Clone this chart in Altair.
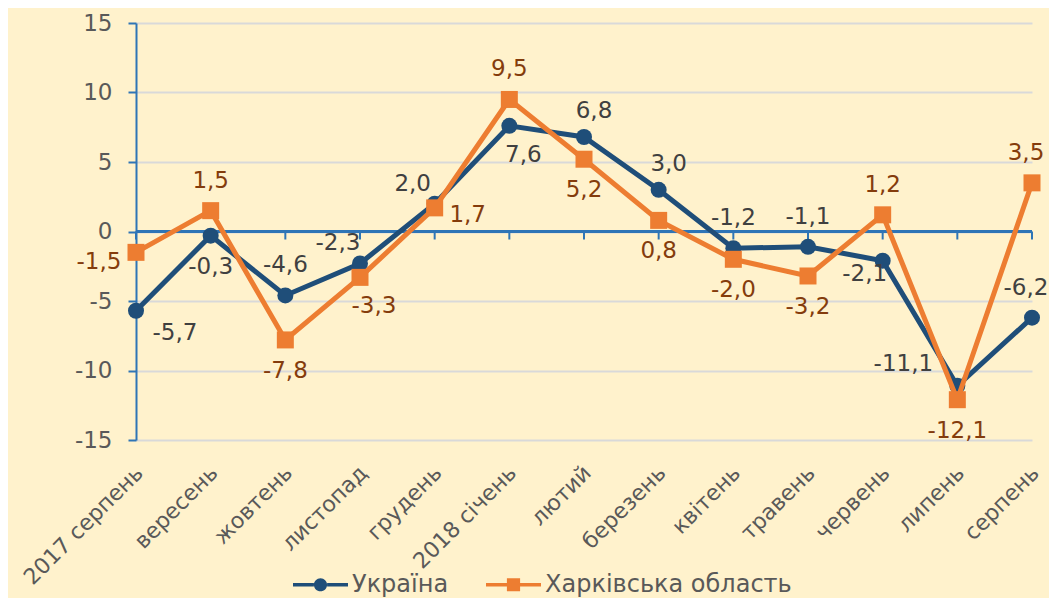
import altair as alt
import pandas as pd

CATEGORIES = ["2017 серпень", "вересень", "жовтень", "листопад", "грудень",
              "2018 січень", "лютий", "березень", "квітень", "травень",
              "червень", "липень", "серпень"]
SERIES = ["Україна", "Харківська область"]
UKRAINE = [-5.7, -0.3, -4.6, -2.3, 2.0, 7.6, 6.8, 3.0, -1.2, -1.1, -2.1, -11.1, -6.2]
KHARKIV = [-1.5, 1.5, -7.8, -3.3, 1.7, 9.5, 5.2, 0.8, -2.0, -3.2, 1.2, -12.1, 3.5]
Y_TICKS = [-15, -10, -5, 0, 5, 10, 15]

# label placement keywords (Excel-style data label positions)
UKRAINE_LABEL_POS = ["right_below", "below", "above", "above_left", "above_left",
                     "below_right", "above_right", "above_right", "above", "above",
                     "below_left", "left_above", "above_edge"]
KHARKIV_LABEL_POS = ["left", "above", "below", "below_right", "right", "above",
                     "below", "below", "below", "below", "above", "below", "above_edge"]

PLACEMENT = {
    "above": (0, -30), "below": (0, 31), "right": (33, 7), "left": (-37, 10),
    "below_right": (14, 29), "right_below": (39, 22), "above_left": (-22, -20),
    "above_right": (10, -26), "below_left": (-18, 13), "left_above": (-54, -22),
    "above_edge": (-6, -30),
}

BLUE = "#1F4E79"
ORANGE = "#ED7D31"
AXIS_BLUE = "#2E75B6"
LABEL_COLORS = ["#404040", "#843C0C"]
TICK_GRAY = "#595959"
FONT = "DejaVu Sans"
SHAPES = ["circle", "square"]
SIZES = [256, 289]
LEGEND_PATHS = [
    "M-1,-0.06H-0.24V0.06H-1Z M0.24,-0.06H1V0.06H0.24Z "
    "M-0.24,0A0.24,0.24,0,1,1,0.24,0A0.24,0.24,0,1,1,-0.24,0Z",
    "M-1,-0.06H-0.24V0.06H-1Z M0.24,-0.06H1V0.06H0.24Z "
    "M-0.24,-0.24H0.24V0.24H-0.24Z",
]
MINUS = "\u2212"

rows = []
for s, vals, poss in [(SERIES[0], UKRAINE, UKRAINE_LABEL_POS), (SERIES[1], KHARKIV, KHARKIV_LABEL_POS)]:
    for c, v, p in zip(CATEGORIES, vals, poss):
        rows.append({"category": c, "series": s, "value": v, "pos": p})
df = pd.DataFrame(rows)

base = alt.Chart(df).transform_calculate(
    label=f"replace(replace(format(datum.value, '.1f'), '.', ','), '{MINUS}', '-')"
)

XC = alt.X("category:N", sort=CATEGORIES)
X = alt.X("category:N", sort=CATEGORIES,
          scale=alt.Scale(type="point", padding=0),
          axis=alt.Axis(title=None, domain=False, ticks=False, tickSize=0, grid=False,
                        labelAngle=-45, labelAlign="right", labelBaseline="middle",
                        labelPadding=29, labelOffset=3, labelFont=FONT, labelFontSize=22,
                        labelColor=TICK_GRAY))
Y = alt.Y("value:Q", scale=alt.Scale(domain=[-15, 15], nice=False, zero=False),
          axis=alt.Axis(title=None, values=Y_TICKS, domainColor=AXIS_BLUE, domainWidth=2,
                        tickColor=AXIS_BLUE, tickWidth=2, tickSize=8,
                        labelColor=TICK_GRAY, labelFont=FONT, labelFontSize=23,
                        labelPadding=16, gridColor="#D9D9D9", gridWidth=2,
                        labelExpr=f"replace(datum.label, '{MINUS}', '-')"))
STROKE = alt.Stroke("series:N", scale=alt.Scale(domain=SERIES, range=[BLUE, ORANGE]), legend=None)
FILL = alt.Fill("series:N", scale=alt.Scale(domain=SERIES, range=[BLUE, ORANGE]), legend=None)

legend = alt.Legend(title=None, orient="none", legendX=157, legendY=534,
                    direction="horizontal", labelFont=FONT, labelFontSize=24,
                    labelColor=TICK_GRAY, labelLimit=400, symbolSize=3025,
                    symbolStrokeWidth=0, labelOffset=4, columnPadding=37, padding=0)

layers = []
# legend carrier (zero-size points) first so that it defines the legend
layers.append(
    base.mark_point(filled=True, size=0, opacity=1).encode(
        x=X, y=Y,
        color=alt.Color("series:N", scale=alt.Scale(domain=SERIES, range=[BLUE, ORANGE]), legend=legend),
        shape=alt.Shape("series:N", scale=alt.Scale(domain=SERIES, range=LEGEND_PATHS), legend=legend),
    )
)
layers.append(base.mark_rule(color=AXIS_BLUE, strokeWidth=2).encode(y=alt.datum(0)))
layers.append(
    base.transform_filter(alt.datum.series == SERIES[0])
    .mark_rule(color=AXIS_BLUE, strokeWidth=2, y2Offset=8)
    .encode(x=XC, y=alt.datum(0), y2=alt.datum(0))
)

for i, s in enumerate(SERIES):
    sub = base.transform_filter(alt.datum.series == s)
    layers.append(sub.mark_line(strokeWidth=5).encode(x=XC, y="value:Q", stroke=STROKE))
    layers.append(sub.mark_point(filled=True, shape=SHAPES[i], size=SIZES[i], opacity=1,
                                 strokeWidth=0).encode(x=XC, y="value:Q", fill=FILL))

for i, (s, poss) in enumerate([(SERIES[0], UKRAINE_LABEL_POS), (SERIES[1], KHARKIV_LABEL_POS)]):
    for key in sorted(set(poss)):
        dx, dy = PLACEMENT[key]
        layers.append(
            base.transform_filter((alt.datum.series == s) & (alt.datum.pos == key))
            .mark_text(dx=dx, dy=dy, font=FONT, fontSize=23, color=LABEL_COLORS[i],
                       align="center", baseline="middle")
            .encode(x=XC, y="value:Q", text="label:N")
        )

chart = alt.layer(*layers).properties(
    width=896, height=417, background="#FFF2CC",
    padding={"left": 128, "top": 15, "right": 17, "bottom": 170},
    autosize=alt.AutoSizeParams(type="none"),
).configure(font=FONT).configure_view(strokeWidth=0)

chart.save("out.html", embed_options={"renderer": "svg", "actions": False})
